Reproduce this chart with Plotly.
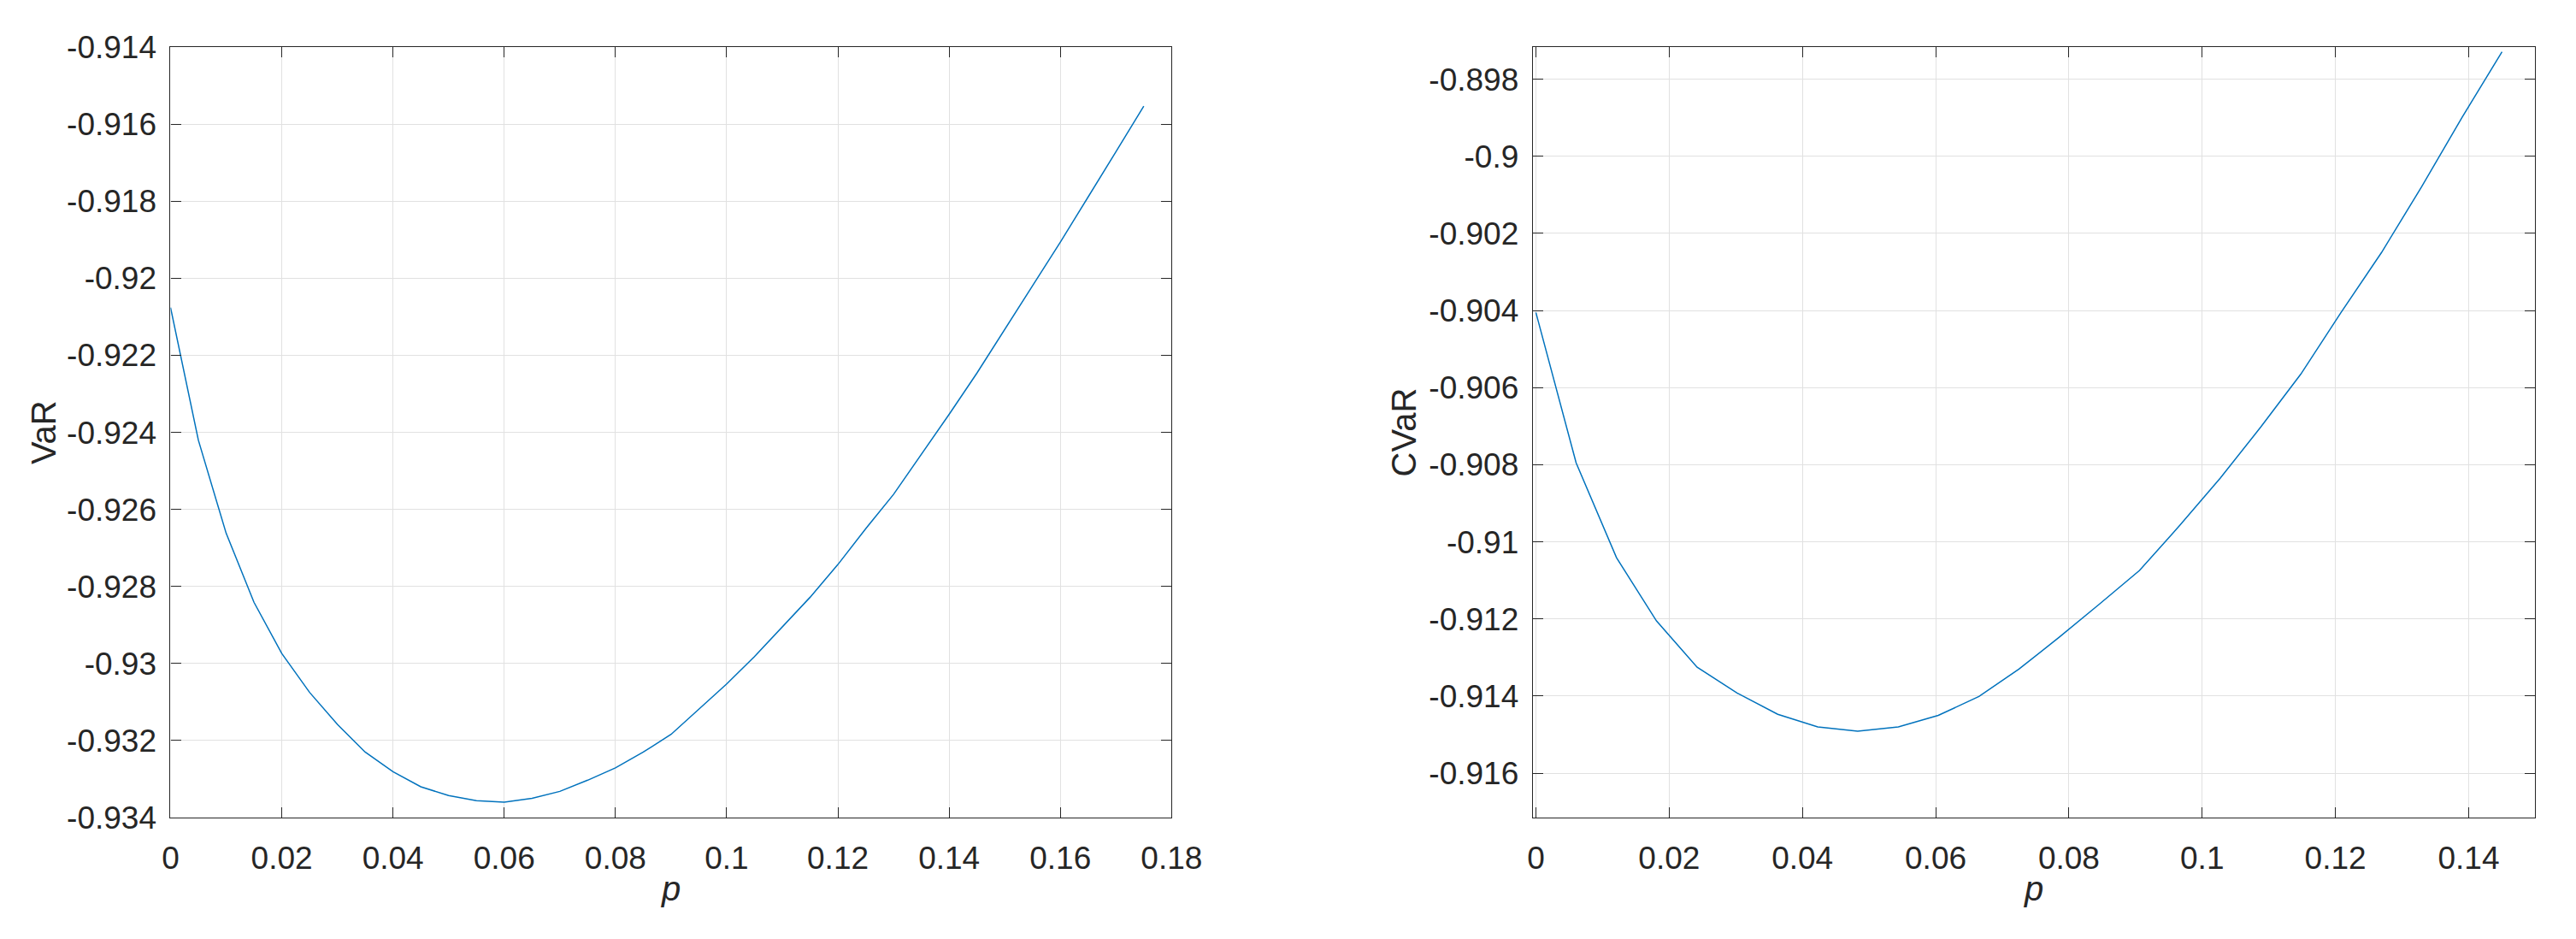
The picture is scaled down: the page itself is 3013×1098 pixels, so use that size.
import plotly.graph_objects as go

# ---- data ----
p_var = [0, 0.005, 0.01, 0.015, 0.02, 0.025, 0.03, 0.035, 0.04, 0.045, 0.05, 0.055,
         0.06, 0.065, 0.07, 0.075, 0.08, 0.085, 0.09, 0.095, 0.10, 0.105, 0.11, 0.115,
         0.12, 0.125, 0.13, 0.135, 0.14, 0.145, 0.15, 0.155, 0.16, 0.165, 0.17, 0.175]
var_vals = [-0.92076, -0.92420, -0.92662, -0.92841, -0.92974, -0.93075, -0.93158, -0.93230,
            -0.93281, -0.93320, -0.93343, -0.93356, -0.93360, -0.93350, -0.93332, -0.93303,
            -0.93271, -0.93230, -0.93184, -0.93118, -0.93053, -0.92982, -0.92905, -0.92828,
            -0.92743, -0.92650, -0.92561, -0.92457, -0.92353, -0.92246, -0.92134, -0.92019,
            -0.91906, -0.91790, -0.91671, -0.91553]

p_cvar = [0, 0.00604, 0.0121, 0.0181, 0.0242, 0.0302, 0.0363, 0.0423, 0.0483, 0.0544,
          0.0604, 0.0665, 0.0725, 0.0785, 0.0846, 0.0906, 0.0967, 0.1027, 0.1088, 0.1148,
          0.1208, 0.1269, 0.1329, 0.1390, 0.145]
cvar_vals = [-0.90405, -0.90795, -0.91041, -0.91205, -0.91325, -0.91392, -0.91447, -0.91480,
             -0.91491, -0.91480, -0.91450, -0.91401, -0.91330, -0.91248, -0.91161, -0.91074,
             -0.90956, -0.90835, -0.90702, -0.90565, -0.90406, -0.90250, -0.90080, -0.89899,
             -0.89729]

x1_ticks = [0, 0.02, 0.04, 0.06, 0.08, 0.10, 0.12, 0.14, 0.16, 0.18]
x1_labels = ["0", "0.02", "0.04", "0.06", "0.08", "0.1", "0.12", "0.14", "0.16", "0.18"]
y1_ticks = [-0.914, -0.916, -0.918, -0.920, -0.922, -0.924, -0.926, -0.928, -0.930, -0.932, -0.934]
y1_labels = ["-0.914", "-0.916", "-0.918", "-0.92", "-0.922", "-0.924", "-0.926", "-0.928",
             "-0.93", "-0.932", "-0.934"]
x2_ticks = [0, 0.02, 0.04, 0.06, 0.08, 0.10, 0.12, 0.14]
x2_labels = ["0", "0.02", "0.04", "0.06", "0.08", "0.1", "0.12", "0.14"]
y2_ticks = [-0.898, -0.900, -0.902, -0.904, -0.906, -0.908, -0.910, -0.912, -0.914, -0.916]
y2_labels = ["-0.898", "-0.9", "-0.902", "-0.904", "-0.906", "-0.908", "-0.91", "-0.912",
             "-0.914", "-0.916"]

W, H = 3013, 1098
FONT = "Liberation Sans, Arial, Helvetica, sans-serif"
TXT = "#262626"
LINE_COLOR = "#0072BD"

fig = go.Figure()
fig.add_trace(go.Scatter(x=p_var, y=var_vals, mode="lines",
                         line=dict(color=LINE_COLOR, width=1.5), xaxis="x", yaxis="y",
                         showlegend=False))
fig.add_trace(go.Scatter(x=p_cvar, y=cvar_vals, mode="lines",
                         line=dict(color=LINE_COLOR, width=1.5), xaxis="x2", yaxis="y2",
                         showlegend=False))

ydom = [(H - 964) / H, (H - 28.3) / H]
x1dom = [184.3 / W, 1373.3 / W]
x2dom = [1802.3 / W, 2992.3 / W]

common = dict(showline=True, linecolor=TXT, linewidth=1.2, mirror="ticks",
              ticks="inside", ticklen=12, tickwidth=1.2, tickcolor=TXT,
              showgrid=True, gridcolor="#e1e1e1", gridwidth=1.2, zeroline=False,
              tickfont=dict(family=FONT, size=37, color=TXT), tickmode="array")

fig.update_layout(
    width=W, height=H,
    margin=dict(l=0, r=0, t=0, b=0),
    paper_bgcolor="white", plot_bgcolor="white",
    xaxis=dict(domain=x1dom, anchor="y", range=[0, 0.18], tickvals=x1_ticks,
               ticktext=x1_labels, ticklabelstandoff=14, **common),
    yaxis=dict(domain=ydom, anchor="x", range=[-0.934, -0.914], tickvals=y1_ticks,
               ticktext=y1_labels, ticklabelstandoff=8, **common),
    xaxis2=dict(domain=x2dom, anchor="y2", range=[-0.00047, 0.1499], tickvals=x2_ticks,
                ticktext=x2_labels, ticklabelstandoff=14, **common),
    yaxis2=dict(domain=ydom, anchor="x2", range=[-0.91715, -0.89717], tickvals=y2_ticks,
                ticktext=y2_labels, ticklabelstandoff=8, **common),
    annotations=[
        dict(text="VaR", x=33 / W, y=(ydom[0] + ydom[1]) / 2, xref="paper", yref="paper",
             textangle=-90, showarrow=False, xanchor="center", yanchor="middle",
             font=dict(family=FONT, size=40, color=TXT)),
        dict(text="<i>p</i>", x=(x1dom[0] + x1dom[1]) / 2, y=(H - 1050) / H, xref="paper",
             yref="paper", showarrow=False, xanchor="center", yanchor="middle",
             font=dict(family=FONT, size=40, color=TXT)),
        dict(text="CVaR", x=1649 / W, y=(ydom[0] + ydom[1]) / 2, xref="paper", yref="paper",
             textangle=-90, showarrow=False, xanchor="center", yanchor="middle",
             font=dict(family=FONT, size=40, color=TXT)),
        dict(text="<i>p</i>", x=(x2dom[0] + x2dom[1]) / 2, y=(H - 1050) / H, xref="paper",
             yref="paper", showarrow=False, xanchor="center", yanchor="middle",
             font=dict(family=FONT, size=40, color=TXT)),
    ],
)

fig.write_html("out.html")
